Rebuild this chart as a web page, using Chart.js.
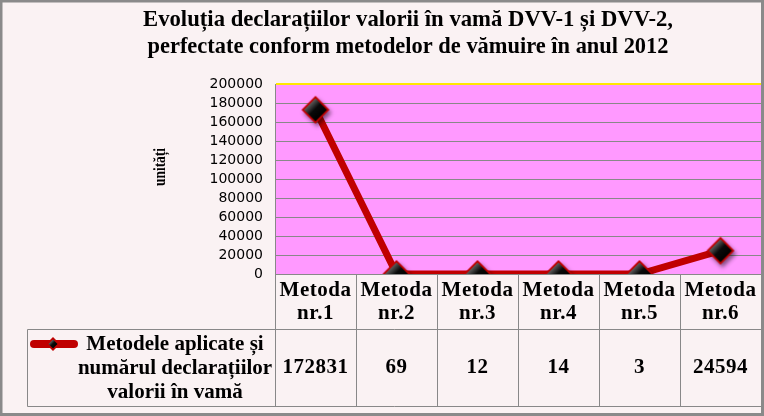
<!DOCTYPE html>
<html>
<head>
<meta charset="utf-8">
<script src="https://cdn.jsdelivr.net/npm/chart.js@4"></script>
<style>
  body { margin: 0; background: #fff; }
  canvas { display: block; }
</style>
</head>
<body>
<canvas id="canvas" width="764" height="416"></canvas>
<script>
// data
const titleLines = ['Evoluția declarațiilor valorii în vamă DVV-1 și DVV-2,',
                    'perfectate conform metodelor de vămuire în anul 2012']
const categories = [['Metoda', 'nr.1'], ['Metoda', 'nr.2'], ['Metoda', 'nr.3'],
                    ['Metoda', 'nr.4'], ['Metoda', 'nr.5'], ['Metoda', 'nr.6']]
const values = [172831, 69, 12, 14, 3, 24594]
const seriesName = ['Metodele aplicate și', 'numărul declarațiilor', 'valorii în vamă']
const yTitle = 'unități'
const yMin = 0
const yMax = 200000
const yStep = 20000

const lineRed = '#C00000'
const gridGray = '#888888'
const serif = '"Liberation Serif", "Times New Roman", serif'

function diamond(g, cx, cy, r) {
  g.beginPath()
  g.moveTo(cx, cy - r)
  g.lineTo(cx + r, cy)
  g.lineTo(cx, cy + r)
  g.lineTo(cx - r, cy)
  g.closePath()
}

// black glossy diamond with red rim and a soft shadow
function makeMarker(r, withShadow) {
  const c = document.createElement('canvas')
  const s = Math.ceil(r * 2 + 14)
  c.width = s
  c.height = s
  const g = c.getContext('2d')
  const cx = s / 2, cy = s / 2
  g.save()
  if (withShadow) {
    g.shadowColor = 'rgba(0,0,0,0.5)'
    g.shadowBlur = 4
    g.shadowOffsetX = 2
    g.shadowOffsetY = 3
  }
  diamond(g, cx, cy, r)
  g.fillStyle = lineRed
  g.fill()
  g.restore()
  const ri = r - 2.5
  const grad = g.createLinearGradient(cx - ri / 2, cy - ri / 2, cx + ri / 2, cy + ri / 2)
  grad.addColorStop(0, '#5a5a5a')
  grad.addColorStop(0.45, '#0a0a0a')
  grad.addColorStop(1, '#000')
  diamond(g, cx, cy, ri)
  g.fillStyle = grad
  g.fill()
  return c
}

const marker = makeMarker(14, true)
const smallMarker = makeMarker(7, false)

const decor = {
  id: 'decor',
  beforeDraw(chart) {
    const ctx = chart.ctx
    const a = chart.chartArea
    ctx.save()
    ctx.fillStyle = '#FAF2F3'
    ctx.fillRect(0, 0, chart.width, chart.height)
    ctx.fillStyle = '#FF99FF'
    ctx.fillRect(a.left, a.top, a.right - a.left, a.bottom - a.top)
    ctx.restore()
  },
  afterDraw(chart) {
    const ctx = chart.ctx
    const a = chart.chartArea
    const xs = chart.scales.x
    ctx.save()

    // title
    ctx.fillStyle = '#000'
    ctx.textAlign = 'center'
    ctx.textBaseline = 'middle'
    ctx.font = 'bold 24px ' + serif
    ctx.fillText(titleLines[0], 408, 20, 530)
    ctx.fillText(titleLines[1], 408, 47, 521)

    // y axis title
    ctx.save()
    ctx.translate(161, 167)
    ctx.rotate(-Math.PI / 2)
    ctx.font = 'bold 17px ' + serif
    ctx.fillText(yTitle, 0, 0, 38)
    ctx.restore()

    // data table
    const top = a.bottom
    const mid = 329.5
    const bot = 406.5
    const tableLeft = 27.5
    const bounds = [a.left]
    for (let i = 0; i < categories.length - 1; i++) {
      bounds.push((xs.getPixelForValue(i) + xs.getPixelForValue(i + 1)) / 2)
    }
    bounds.push(a.right)

    ctx.strokeStyle = gridGray
    ctx.lineWidth = 1
    ctx.beginPath()
    bounds.forEach(function (b) {
      const x = Math.round(b) + 0.5
      ctx.moveTo(x, top)
      ctx.lineTo(x, bot)
    })
    ctx.moveTo(tableLeft, mid)
    ctx.lineTo(a.right, mid)
    ctx.moveTo(tableLeft, bot)
    ctx.lineTo(a.right, bot)
    ctx.moveTo(tableLeft, mid)
    ctx.lineTo(tableLeft, bot)
    ctx.stroke()

    ctx.font = 'bold 21px ' + serif
    ctx.letterSpacing = '0.5px'
    categories.forEach(function (lines, i) {
      const x = xs.getPixelForValue(i)
      ctx.fillText(lines[0], x, 291, 72)
      ctx.fillText(lines[1], x, 314, 72)
      ctx.fillText(String(values[i]), x, 368, 72)
    })
    ctx.letterSpacing = '0px'

    // series key in the table
    ctx.strokeStyle = lineRed
    ctx.lineWidth = 8
    ctx.lineCap = 'round'
    ctx.beginPath()
    ctx.moveTo(34, 344)
    ctx.lineTo(74, 344)
    ctx.stroke()
    ctx.drawImage(smallMarker, 53 - smallMarker.width / 2, 344 - smallMarker.height / 2)

    ctx.fillStyle = '#000'
    ctx.font = 'bold 21px ' + serif
    seriesName.forEach(function (t, i) {
      ctx.fillText(t, 175, 345 + i * 24, 196)
    })

    // outer frame
    ctx.strokeStyle = '#8a8a8a'
    ctx.lineWidth = 3
    ctx.strokeRect(1, 1, chart.width - 2.5, chart.height - 2.5)
    ctx.restore()
  }
}

const data = {
  labels: categories,
  datasets: [{
    label: seriesName.join(' '),
    data: values,
    borderColor: lineRed,
    backgroundColor: '#000',
    borderWidth: 7,
    pointStyle: marker,
    pointRadius: 14,
    pointHoverRadius: 14,
    tension: 0
  }]
}

const config = {
  type: 'line',
  data: data,
  plugins: [decor],
  options: {
    responsive: false,
    animation: false,
    layout: { autoPadding: false, padding: { top: 84, bottom: 142, right: 3, left: 0 } },
    plugins: { legend: { display: false }, title: { display: false }, tooltip: { enabled: false } },
    scales: {
      x: { display: false, offset: true },
      y: {
        min: yMin,
        max: yMax,
        afterFit: function (scale) { scale.width = 275 },
        border: { display: true, color: gridGray, width: 1 },
        grid: {
          drawTicks: false,
          color: function (c) { return c.tick && c.tick.value === yMax ? '#FFE800' : gridGray },
          lineWidth: function (c) { return c.tick && c.tick.value === yMax ? 2 : 1 }
        },
        ticks: {
          stepSize: yStep,
          autoSkip: false,
          padding: 12,
          color: '#000',
          font: { family: '"DejaVu Sans", Verdana, sans-serif', size: 14 },
          callback: function (v) { return String(v) }
        }
      }
    }
  }
}

const canvas = document.getElementById('canvas')
const chart = new Chart(canvas, config)
</script>
</body>
</html>
